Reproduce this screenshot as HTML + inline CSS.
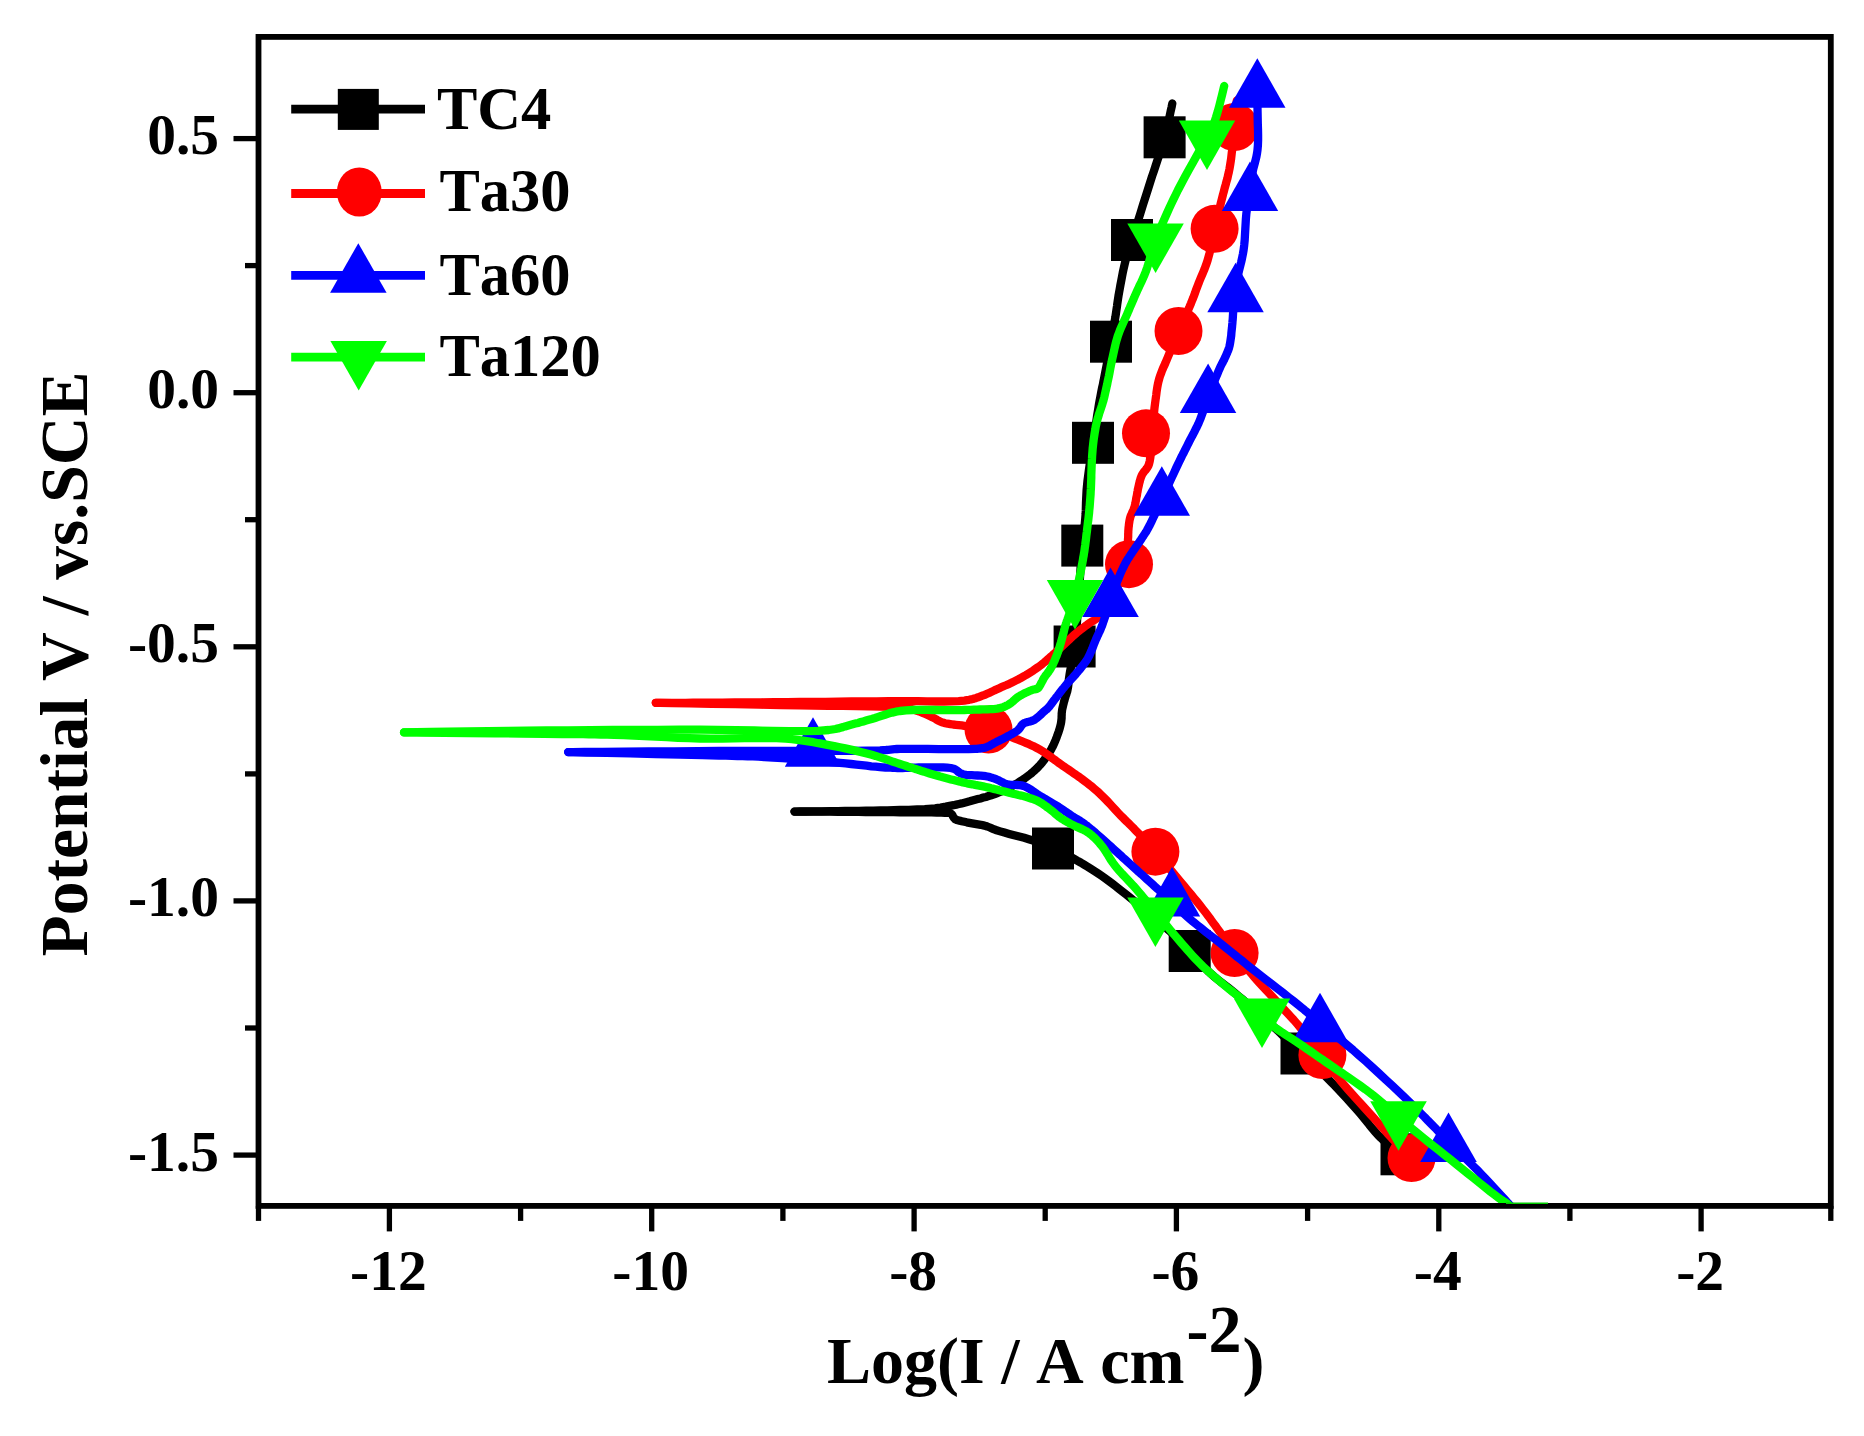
<!DOCTYPE html>
<html lang="en"><head><meta charset="utf-8"><title>Polarization curves</title>
<style>html,body{margin:0;padding:0;background:#fff}svg{display:block;filter:blur(0.7px)}text{font-kerning:none;font-family:"Liberation Serif","Times New Roman",serif;font-weight:bold;fill:#000}</style></head><body>
<svg width="1864" height="1436" viewBox="0 0 1864 1436">
<rect width="1864" height="1436" fill="#fff"/>
<defs><clipPath id="pc"><rect x="258.5" y="36.9" width="1572.3" height="1171.0"/></clipPath></defs>
<g clip-path="url(#pc)" fill="none" stroke-linejoin="round" stroke-linecap="round">
<path d="M1172.3 103.5 L1172.1 104.5 L1171.6 107.1 L1170.7 111.0 L1169.7 115.9 L1168.5 121.3 L1167.2 127.0 L1165.9 132.4 L1164.6 137.3 L1163.1 142.6 L1161.4 148.0 L1159.7 153.6 L1157.8 159.2 L1155.9 164.9 L1154.0 170.7 L1152.0 176.5 L1150.1 182.5 L1147.9 189.6 L1145.5 197.1 L1143.0 204.8 L1140.6 212.6 L1138.2 220.2 L1135.9 227.5 L1133.8 234.1 L1132.0 240.0 L1131.0 243.0 L1130.1 245.8 L1129.3 248.3 L1128.5 250.7 L1127.7 253.0 L1127.0 255.4 L1126.2 257.9 L1125.5 260.7 L1124.6 264.4 L1123.7 268.4 L1122.8 272.5 L1122.0 276.7 L1121.2 281.0 L1120.4 285.1 L1119.7 289.1 L1119.0 292.9 L1118.5 295.8 L1118.1 298.5 L1117.7 301.2 L1117.3 303.8 L1117.0 306.3 L1116.6 308.9 L1116.2 311.6 L1115.8 314.4 L1115.3 317.6 L1114.7 320.9 L1114.1 324.2 L1113.5 327.6 L1112.9 331.0 L1112.3 334.5 L1111.7 338.1 L1111.0 341.7 L1110.2 346.1 L1109.3 350.8 L1108.4 355.6 L1107.5 360.5 L1106.6 365.4 L1105.7 370.1 L1104.8 374.6 L1104.0 378.8 L1103.4 381.7 L1102.9 384.4 L1102.3 386.9 L1101.8 389.4 L1101.3 391.9 L1100.8 394.5 L1100.3 397.2 L1099.7 400.2 L1098.9 404.8 L1098.1 409.8 L1097.2 415.1 L1096.4 420.6 L1095.5 426.2 L1094.6 431.8 L1093.8 437.4 L1093.0 442.8 L1092.2 448.2 L1091.3 453.7 L1090.5 459.2 L1089.7 464.7 L1088.9 470.1 L1088.2 475.5 L1087.5 480.7 L1087.0 485.8 L1086.6 490.1 L1086.4 494.2 L1086.2 498.3 L1086.0 502.3 L1085.9 506.3 L1085.8 510.2 L1085.6 514.1 L1085.3 518.0 L1085.0 521.4 L1084.7 524.6 L1084.3 527.7 L1083.9 530.9 L1083.5 534.1 L1083.1 537.5 L1082.7 541.3 L1082.3 545.6 L1081.5 555.6 L1080.6 567.8 L1079.7 581.5 L1078.8 596.0 L1077.8 610.4 L1076.8 624.2 L1075.7 636.4 L1074.6 646.5 L1074.0 651.0 L1073.3 655.1 L1072.6 658.9 L1071.9 662.4 L1071.2 665.8 L1070.6 668.9 L1070.0 672.0 L1069.5 675.0 L1069.2 677.1 L1068.9 679.2 L1068.7 681.2 L1068.5 683.1 L1068.3 685.0 L1068.1 686.7 L1067.8 688.4 L1067.5 690.0 L1067.3 691.0 L1067.0 692.0 L1066.7 692.8 L1066.5 693.7 L1066.2 694.5 L1065.9 695.4 L1065.6 696.3 L1065.3 697.3 L1064.9 698.7 L1064.5 700.2 L1064.0 701.8 L1063.6 703.4 L1063.2 705.1 L1062.8 706.8 L1062.4 708.5 L1062.1 710.1 L1061.9 711.7 L1061.7 713.4 L1061.7 715.0 L1061.6 716.6 L1061.6 718.3 L1061.4 720.0 L1061.2 721.8 L1060.9 723.6 L1060.3 726.1 L1059.6 728.8 L1058.7 731.6 L1057.7 734.4 L1056.7 737.2 L1055.6 740.0 L1054.5 742.6 L1053.4 745.1 L1052.4 747.1 L1051.4 748.9 L1050.4 750.7 L1049.4 752.5 L1048.3 754.2 L1047.2 755.8 L1046.0 757.5 L1044.8 759.1 L1043.6 760.7 L1042.4 762.2 L1041.1 763.7 L1039.8 765.2 L1038.5 766.6 L1037.1 768.1 L1035.6 769.5 L1034.1 770.9 L1032.3 772.5 L1030.5 774.0 L1028.5 775.5 L1026.5 777.0 L1024.5 778.5 L1022.4 779.9 L1020.2 781.3 L1018.0 782.7 L1015.5 784.2 L1012.9 785.6 L1010.3 787.1 L1007.6 788.5 L1004.9 789.8 L1002.1 791.1 L999.3 792.3 L996.6 793.4 L994.0 794.4 L991.3 795.3 L988.6 796.1 L985.9 796.9 L983.2 797.6 L980.5 798.4 L977.8 799.1 L975.1 799.8 L972.4 800.5 L969.7 801.3 L967.1 802.0 L964.4 802.7 L961.7 803.4 L959.0 804.0 L956.3 804.6 L953.6 805.2 L951.0 805.7 L948.4 806.2 L945.8 806.7 L943.2 807.1 L940.6 807.6 L937.9 807.9 L935.1 808.3 L932.2 808.6 L928.6 808.9 L924.8 809.2 L921.0 809.4 L917.1 809.5 L913.0 809.6 L908.8 809.8 L904.5 809.9 L900.0 810.0 L893.8 810.2 L887.2 810.3 L880.3 810.5 L873.3 810.6 L866.1 810.7 L858.9 810.8 L851.9 810.9 L845.0 811.0 L837.9 811.1 L829.9 811.2 L821.5 811.3 L813.3 811.4 L805.9 811.5 L800.0 811.5 L796.0 811.6 L794.5 811.6" stroke="#000" stroke-width="8.3"/>
<path d="M794.5 811.6 L796.0 811.6 L800.0 811.6 L805.9 811.6 L813.3 811.7 L821.5 811.7 L829.9 811.7 L837.9 811.8 L845.0 811.8 L851.8 811.8 L858.7 811.9 L865.7 812.0 L872.7 812.0 L879.7 812.1 L886.6 812.2 L893.4 812.2 L900.0 812.3 L906.1 812.3 L912.5 812.4 L919.0 812.4 L925.4 812.4 L931.4 812.4 L936.8 812.5 L941.4 812.6 L945.0 812.8 L946.0 812.9 L946.9 812.9 L947.8 812.9 L948.5 812.9 L949.2 813.0 L949.8 813.1 L950.4 813.3 L951.0 813.6 L951.6 814.1 L952.1 814.7 L952.5 815.4 L952.9 816.2 L953.4 817.0 L953.8 817.7 L954.4 818.4 L955.0 819.0 L955.9 819.5 L956.9 820.0 L958.0 820.3 L959.1 820.7 L960.4 820.9 L961.7 821.2 L963.0 821.5 L964.4 821.8 L966.7 822.3 L969.3 822.8 L972.1 823.3 L975.0 823.8 L977.9 824.3 L980.8 824.8 L983.4 825.4 L985.8 826.0 L987.3 826.5 L988.6 827.0 L989.9 827.5 L991.0 828.0 L992.2 828.6 L993.5 829.1 L995.0 829.7 L996.6 830.3 L1000.2 831.4 L1004.4 832.6 L1009.2 833.9 L1014.1 835.2 L1019.2 836.5 L1024.2 837.8 L1028.8 839.2 L1033.0 840.5 L1035.8 841.5 L1038.5 842.4 L1041.0 843.4 L1043.4 844.4 L1045.8 845.4 L1048.1 846.4 L1050.5 847.4 L1053.0 848.5 L1055.6 849.7 L1058.1 850.8 L1060.7 852.0 L1063.2 853.2 L1065.8 854.5 L1068.4 855.8 L1071.1 857.2 L1073.8 858.7 L1077.1 860.6 L1080.6 862.5 L1084.1 864.6 L1087.6 866.7 L1091.2 869.0 L1094.7 871.2 L1098.2 873.5 L1101.7 875.9 L1105.2 878.4 L1108.6 880.9 L1112.0 883.4 L1115.4 886.0 L1118.8 888.7 L1122.3 891.5 L1125.9 894.3 L1129.6 897.3 L1134.5 901.2 L1139.7 905.5 L1145.1 909.9 L1150.6 914.5 L1156.0 919.0 L1161.2 923.5 L1166.0 927.8 L1170.4 931.7 L1173.2 934.3 L1175.8 936.8 L1178.3 939.2 L1180.6 941.5 L1182.9 943.9 L1185.1 946.2 L1187.4 948.6 L1189.7 951.0 L1192.1 953.6 L1194.5 956.2 L1196.8 958.8 L1199.1 961.5 L1201.5 964.2 L1203.9 966.8 L1206.4 969.4 L1209.0 972.0 L1212.0 974.7 L1215.0 977.3 L1218.2 979.9 L1221.5 982.5 L1224.8 985.0 L1228.1 987.6 L1231.5 990.3 L1234.8 993.0 L1238.5 996.1 L1242.4 999.3 L1246.3 1002.6 L1250.2 1005.9 L1254.1 1009.2 L1257.9 1012.4 L1261.5 1015.5 L1264.8 1018.5 L1267.2 1020.7 L1269.4 1022.7 L1271.6 1024.7 L1273.7 1026.7 L1275.7 1028.7 L1277.8 1030.6 L1279.8 1032.6 L1282.0 1034.7 L1284.4 1037.0 L1286.7 1039.2 L1289.1 1041.5 L1291.5 1043.9 L1293.9 1046.2 L1296.4 1048.6 L1298.9 1051.0 L1301.5 1053.5 L1304.5 1056.4 L1307.7 1059.3 L1310.9 1062.3 L1314.1 1065.3 L1317.4 1068.4 L1320.7 1071.5 L1324.0 1074.7 L1327.3 1078.0 L1331.0 1081.8 L1334.8 1085.7 L1338.6 1089.8 L1342.5 1093.9 L1346.3 1098.0 L1350.1 1102.2 L1353.7 1106.2 L1357.3 1110.2 L1360.4 1113.8 L1363.5 1117.5 L1366.4 1121.1 L1369.3 1124.8 L1372.2 1128.3 L1375.1 1131.7 L1378.0 1135.0 L1381.0 1138.0 L1383.6 1140.4 L1386.3 1142.6 L1389.0 1144.7 L1391.7 1146.6 L1394.4 1148.6 L1396.9 1150.5 L1399.3 1152.4 L1401.5 1154.3 L1403.2 1156.0 L1404.9 1157.8 L1406.7 1159.8 L1408.4 1161.7 L1409.8 1163.4 L1411.0 1164.7 L1411.7 1165.7 L1412.0 1166.0" stroke="#000" stroke-width="8.3"/>
<rect x="1143.6" y="116.3" width="42.0" height="42.0" fill="#000"/>
<rect x="1111.0" y="219.0" width="42.0" height="42.0" fill="#000"/>
<rect x="1090.0" y="320.7" width="42.0" height="42.0" fill="#000"/>
<rect x="1072.0" y="421.8" width="42.0" height="42.0" fill="#000"/>
<rect x="1061.3" y="524.6" width="42.0" height="42.0" fill="#000"/>
<rect x="1053.6" y="625.5" width="42.0" height="42.0" fill="#000"/>
<rect x="1032.0" y="827.5" width="42.0" height="42.0" fill="#000"/>
<rect x="1168.7" y="930.0" width="42.0" height="42.0" fill="#000"/>
<rect x="1280.5" y="1032.5" width="42.0" height="42.0" fill="#000"/>
<rect x="1380.5" y="1133.3" width="42.0" height="42.0" fill="#000"/>
<path d="M1236.8 100.5 L1236.7 101.2 L1236.6 103.3 L1236.3 106.3 L1236.0 110.1 L1235.7 114.3 L1235.3 118.7 L1234.9 123.0 L1234.5 127.0 L1234.0 131.8 L1233.5 137.0 L1233.0 142.4 L1232.4 148.0 L1231.7 153.5 L1231.1 158.9 L1230.3 164.0 L1229.5 168.8 L1228.8 172.3 L1228.0 175.6 L1227.3 178.8 L1226.4 181.8 L1225.6 184.9 L1224.7 188.0 L1223.9 191.2 L1223.0 194.5 L1222.0 198.6 L1220.9 202.8 L1219.9 207.0 L1218.8 211.4 L1217.7 215.8 L1216.6 220.2 L1215.6 224.5 L1214.6 228.8 L1213.7 232.9 L1212.8 237.0 L1212.0 241.1 L1211.2 245.2 L1210.4 249.3 L1209.5 253.2 L1208.5 257.0 L1207.5 260.7 L1206.5 263.6 L1205.5 266.4 L1204.5 269.1 L1203.4 271.8 L1202.3 274.4 L1201.2 276.9 L1200.1 279.5 L1199.0 282.2 L1198.0 284.9 L1197.0 287.5 L1196.0 290.1 L1195.1 292.8 L1194.1 295.4 L1193.1 298.1 L1192.0 300.8 L1190.9 303.6 L1189.5 306.9 L1188.0 310.2 L1186.4 313.7 L1184.8 317.1 L1183.2 320.6 L1181.6 324.1 L1180.0 327.6 L1178.5 331.0 L1177.1 334.3 L1175.7 337.7 L1174.3 341.0 L1173.0 344.3 L1171.7 347.6 L1170.4 350.9 L1169.1 354.1 L1167.8 357.3 L1166.6 360.1 L1165.5 362.8 L1164.3 365.5 L1163.1 368.1 L1162.0 370.8 L1161.0 373.4 L1160.0 376.1 L1159.2 378.8 L1158.5 381.4 L1157.9 384.0 L1157.4 386.6 L1157.0 389.2 L1156.6 391.8 L1156.3 394.5 L1155.9 397.3 L1155.5 400.2 L1155.0 404.0 L1154.5 407.9 L1154.1 412.0 L1153.7 416.2 L1153.2 420.4 L1152.8 424.7 L1152.4 428.9 L1152.0 433.0 L1151.7 437.1 L1151.4 441.3 L1151.2 445.6 L1151.0 449.9 L1150.8 454.0 L1150.3 457.8 L1149.7 461.3 L1148.9 464.4 L1148.2 466.1 L1147.3 467.6 L1146.4 468.9 L1145.4 470.2 L1144.4 471.3 L1143.5 472.5 L1142.6 473.8 L1141.9 475.1 L1141.3 476.4 L1140.8 477.7 L1140.4 479.1 L1140.0 480.4 L1139.7 481.7 L1139.3 483.1 L1139.0 484.4 L1138.7 485.8 L1138.4 487.1 L1138.1 488.5 L1137.8 489.8 L1137.6 491.2 L1137.3 492.5 L1137.1 493.9 L1136.9 495.3 L1136.6 496.6 L1136.3 497.9 L1136.1 499.3 L1135.9 500.6 L1135.6 502.0 L1135.4 503.3 L1135.1 504.6 L1134.8 506.0 L1134.4 507.3 L1133.9 508.6 L1133.4 510.0 L1132.8 511.3 L1132.2 512.6 L1131.6 514.0 L1131.0 515.3 L1130.5 516.6 L1130.1 518.0 L1129.8 519.3 L1129.5 520.7 L1129.3 522.0 L1129.1 523.4 L1128.9 524.7 L1128.8 526.1 L1128.6 527.4 L1128.5 528.8 L1128.4 530.1 L1128.3 531.4 L1128.3 532.7 L1128.2 533.9 L1128.2 535.2 L1128.2 536.6 L1128.1 538.0 L1128.0 539.5 L1127.9 541.7 L1127.7 544.1 L1127.6 546.6 L1127.4 549.2 L1127.2 551.9 L1126.9 554.6 L1126.5 557.3 L1126.0 560.0 L1125.3 563.1 L1124.5 566.2 L1123.6 569.4 L1122.6 572.6 L1121.5 575.8 L1120.4 579.0 L1119.2 582.1 L1118.0 585.0 L1116.9 587.6 L1115.7 590.1 L1114.5 592.5 L1113.3 594.9 L1112.0 597.3 L1110.7 599.6 L1109.4 601.8 L1108.0 604.0 L1106.7 606.0 L1105.3 608.0 L1103.8 610.0 L1102.4 611.9 L1100.9 613.7 L1099.4 615.4 L1098.0 616.9 L1096.6 618.3 L1095.7 619.1 L1094.8 619.8 L1093.9 620.4 L1093.1 620.9 L1092.2 621.4 L1091.3 621.9 L1090.4 622.5 L1089.4 623.2 L1088.0 624.2 L1086.4 625.3 L1084.8 626.5 L1083.2 627.7 L1081.5 629.0 L1079.8 630.3 L1078.2 631.6 L1076.6 632.9 L1075.0 634.3 L1073.3 635.7 L1071.7 637.2 L1070.1 638.7 L1068.5 640.3 L1066.9 641.8 L1065.3 643.3 L1063.7 644.8 L1062.1 646.3 L1060.5 647.8 L1058.9 649.3 L1057.3 650.8 L1055.7 652.3 L1054.0 653.8 L1052.4 655.3 L1050.8 656.7 L1049.2 658.1 L1047.7 659.4 L1046.1 660.8 L1044.6 662.1 L1043.0 663.4 L1041.4 664.7 L1039.7 666.0 L1037.9 667.3 L1035.7 668.8 L1033.4 670.4 L1031.0 671.9 L1028.6 673.4 L1026.1 675.0 L1023.6 676.4 L1021.1 677.8 L1018.6 679.2 L1016.2 680.4 L1013.8 681.6 L1011.4 682.8 L1009.0 683.9 L1006.6 685.0 L1004.1 686.0 L1001.7 687.1 L999.3 688.2 L996.9 689.3 L994.4 690.4 L992.0 691.6 L989.6 692.7 L987.1 693.8 L984.7 694.8 L982.3 695.7 L980.0 696.6 L978.1 697.3 L976.3 697.9 L974.5 698.4 L972.8 699.0 L971.0 699.4 L969.1 699.8 L966.9 700.2 L964.4 700.6 L958.6 701.1 L951.7 701.4 L944.1 701.5 L935.8 701.5 L927.1 701.3 L918.1 701.2 L909.0 701.1 L900.0 701.1 L888.5 701.2 L876.5 701.3 L864.1 701.4 L851.4 701.5 L838.5 701.7 L825.5 701.8 L812.6 701.9 L800.0 702.0 L787.2 702.1 L774.1 702.2 L760.7 702.3 L747.5 702.4 L734.6 702.5 L722.2 702.6 L710.6 702.6 L700.0 702.7 L693.0 702.7 L685.6 702.8 L678.2 702.8 L671.3 702.8 L665.1 702.8 L660.2 702.8 L657.0 702.8 L655.8 702.8" stroke="#f00" stroke-width="8.3"/>
<path d="M655.8 702.8 L660.2 702.9 L672.2 703.1 L689.9 703.4 L711.5 703.8 L735.2 704.2 L759.0 704.6 L781.3 705.0 L800.0 705.4 L814.0 705.6 L828.4 705.8 L842.7 705.9 L856.7 706.1 L869.8 706.3 L881.7 706.5 L891.9 706.9 L900.0 707.5 L902.5 707.7 L904.7 708.0 L906.6 708.2 L908.3 708.5 L909.9 708.7 L911.5 709.1 L913.2 709.5 L915.0 710.0 L917.1 710.7 L919.4 711.5 L921.6 712.4 L923.8 713.3 L926.0 714.3 L928.2 715.3 L930.3 716.3 L932.2 717.2 L933.6 717.9 L935.0 718.6 L936.2 719.4 L937.4 720.1 L938.7 720.8 L940.0 721.4 L941.4 722.1 L942.9 722.6 L945.2 723.2 L947.7 723.7 L950.3 724.1 L953.1 724.5 L955.9 724.8 L958.7 725.1 L961.6 725.4 L964.4 725.8 L967.3 726.2 L970.3 726.6 L973.3 726.9 L976.2 727.3 L979.3 727.7 L982.3 728.2 L985.4 728.8 L988.5 729.5 L992.1 730.5 L995.8 731.6 L999.6 732.8 L1003.4 734.1 L1007.2 735.5 L1010.9 736.9 L1014.5 738.3 L1018.0 739.7 L1020.9 740.8 L1023.7 742.0 L1026.4 743.1 L1029.1 744.2 L1031.7 745.4 L1034.3 746.6 L1036.9 748.0 L1039.5 749.4 L1042.2 751.0 L1044.9 752.8 L1047.6 754.7 L1050.3 756.6 L1052.9 758.6 L1055.6 760.5 L1058.2 762.5 L1060.9 764.4 L1063.6 766.3 L1066.3 768.1 L1069.1 770.0 L1071.8 771.9 L1074.5 773.8 L1077.2 775.6 L1079.9 777.5 L1082.4 779.4 L1084.7 781.1 L1086.9 782.8 L1089.0 784.4 L1091.1 786.1 L1093.2 787.8 L1095.3 789.6 L1097.4 791.4 L1099.6 793.4 L1102.2 795.9 L1105.0 798.7 L1107.7 801.5 L1110.5 804.5 L1113.2 807.5 L1115.9 810.4 L1118.5 813.2 L1121.0 815.8 L1123.0 817.8 L1124.9 819.7 L1126.7 821.5 L1128.6 823.3 L1130.4 825.1 L1132.2 826.9 L1134.1 828.8 L1136.0 830.8 L1138.3 833.2 L1140.7 835.7 L1143.2 838.3 L1145.6 840.9 L1148.1 843.6 L1150.6 846.3 L1153.0 849.0 L1155.4 851.7 L1157.8 854.4 L1160.0 857.1 L1162.3 859.8 L1164.6 862.5 L1166.8 865.3 L1169.1 868.1 L1171.5 871.0 L1174.0 874.0 L1177.1 877.7 L1180.4 881.6 L1183.8 885.7 L1187.2 889.8 L1190.7 893.9 L1194.0 898.0 L1197.3 902.0 L1200.4 905.9 L1203.0 909.2 L1205.6 912.6 L1208.0 915.8 L1210.5 919.1 L1212.8 922.3 L1215.2 925.5 L1217.4 928.6 L1219.7 931.7 L1221.7 934.4 L1223.5 937.1 L1225.3 939.8 L1227.1 942.4 L1228.9 945.1 L1230.7 947.7 L1232.6 950.3 L1234.6 953.0 L1236.8 955.9 L1239.2 958.9 L1241.5 961.8 L1243.9 964.8 L1246.4 967.8 L1248.9 970.7 L1251.4 973.7 L1254.0 976.7 L1256.8 979.9 L1259.7 983.1 L1262.7 986.4 L1265.7 989.6 L1268.8 992.9 L1271.8 996.1 L1274.8 999.3 L1277.7 1002.5 L1280.4 1005.5 L1283.1 1008.4 L1285.8 1011.3 L1288.4 1014.1 L1291.0 1017.0 L1293.7 1019.9 L1296.3 1022.9 L1299.0 1026.0 L1301.9 1029.5 L1304.9 1033.0 L1307.9 1036.7 L1310.9 1040.4 L1313.9 1044.1 L1316.8 1047.8 L1319.7 1051.4 L1322.4 1055.0 L1324.7 1058.2 L1326.9 1061.2 L1328.9 1064.3 L1330.9 1067.3 L1333.0 1070.4 L1335.1 1073.5 L1337.5 1076.7 L1340.0 1080.0 L1343.8 1084.6 L1348.0 1089.5 L1352.5 1094.6 L1357.2 1099.8 L1361.9 1104.9 L1366.4 1109.9 L1370.7 1114.6 L1374.5 1118.8 L1376.9 1121.5 L1379.2 1124.1 L1381.3 1126.5 L1383.4 1128.8 L1385.4 1131.1 L1387.4 1133.4 L1389.5 1135.6 L1391.7 1138.0 L1394.4 1140.8 L1397.4 1143.9 L1400.7 1147.3 L1404.0 1150.5 L1406.9 1153.4 L1409.3 1155.8 L1410.9 1157.4 L1411.5 1158.0" stroke="#f00" stroke-width="8.3"/>
<circle cx="1234.5" cy="127.0" r="24.0" fill="#f00"/>
<circle cx="1214.6" cy="228.8" r="24.0" fill="#f00"/>
<circle cx="1178.5" cy="331.0" r="24.0" fill="#f00"/>
<circle cx="1146.0" cy="433.3" r="24.0" fill="#f00"/>
<circle cx="1129.0" cy="564.2" r="24.0" fill="#f00"/>
<circle cx="988.5" cy="729.5" r="24.0" fill="#f00"/>
<circle cx="1155.4" cy="851.7" r="24.0" fill="#f00"/>
<circle cx="1234.6" cy="953.0" r="24.0" fill="#f00"/>
<circle cx="1322.4" cy="1055.0" r="24.0" fill="#f00"/>
<circle cx="1411.5" cy="1158.0" r="24.0" fill="#f00"/>
<path d="M1257.5 75.0 L1257.5 75.9 L1257.5 78.5 L1257.5 82.4 L1257.5 87.1 L1257.5 92.4 L1257.5 97.9 L1257.5 103.2 L1257.5 108.0 L1257.6 113.1 L1257.7 118.4 L1257.8 123.9 L1258.0 129.4 L1258.1 134.8 L1258.1 140.2 L1257.9 145.3 L1257.5 150.0 L1257.0 153.5 L1256.4 156.8 L1255.6 160.0 L1254.8 163.1 L1254.0 166.1 L1253.2 169.1 L1252.6 172.1 L1252.0 175.0 L1251.6 177.5 L1251.4 180.1 L1251.1 182.5 L1250.9 185.0 L1250.8 187.4 L1250.6 189.8 L1250.3 192.1 L1250.0 194.4 L1249.7 196.4 L1249.3 198.3 L1248.9 200.1 L1248.4 201.9 L1248.0 203.7 L1247.6 205.6 L1247.2 207.7 L1246.8 210.0 L1246.3 214.1 L1245.9 218.8 L1245.6 223.9 L1245.3 229.2 L1245.0 234.6 L1244.7 240.0 L1244.2 245.2 L1243.6 250.0 L1242.9 254.0 L1242.1 258.0 L1241.2 262.0 L1240.2 265.9 L1239.3 269.6 L1238.4 273.3 L1237.6 276.7 L1237.0 280.0 L1236.6 282.2 L1236.3 284.3 L1236.1 286.3 L1235.8 288.2 L1235.6 290.0 L1235.4 291.9 L1235.2 293.8 L1235.0 295.7 L1234.8 297.6 L1234.5 299.6 L1234.3 301.5 L1234.1 303.4 L1233.9 305.3 L1233.7 307.2 L1233.5 309.1 L1233.3 311.0 L1233.1 312.8 L1233.0 314.5 L1232.9 316.2 L1232.8 317.9 L1232.7 319.6 L1232.5 321.3 L1232.4 323.1 L1232.2 325.0 L1232.0 327.5 L1231.7 330.1 L1231.4 332.9 L1231.2 335.7 L1230.8 338.4 L1230.4 341.1 L1230.0 343.7 L1229.5 346.0 L1229.1 347.6 L1228.6 349.1 L1228.1 350.5 L1227.5 351.9 L1227.0 353.3 L1226.4 354.6 L1225.8 355.9 L1225.2 357.3 L1224.6 358.6 L1224.0 359.9 L1223.3 361.1 L1222.7 362.4 L1222.0 363.6 L1221.3 365.0 L1220.6 366.4 L1219.9 368.0 L1218.6 370.9 L1217.3 374.1 L1215.9 377.5 L1214.4 381.2 L1212.9 384.9 L1211.4 388.7 L1210.0 392.4 L1208.6 395.9 L1207.4 399.2 L1206.2 402.4 L1205.1 405.7 L1204.0 408.9 L1202.9 412.1 L1201.7 415.3 L1200.6 418.4 L1199.3 421.5 L1198.1 424.3 L1196.8 427.0 L1195.4 429.7 L1194.1 432.4 L1192.7 435.0 L1191.3 437.6 L1189.9 440.2 L1188.6 442.9 L1187.3 445.5 L1186.0 448.1 L1184.7 450.7 L1183.4 453.3 L1182.0 455.9 L1180.7 458.6 L1179.3 461.5 L1177.9 464.4 L1176.0 468.4 L1174.1 472.6 L1172.0 477.0 L1170.0 481.4 L1167.9 486.0 L1165.8 490.5 L1163.8 494.9 L1161.8 499.2 L1160.0 503.1 L1158.2 507.1 L1156.4 511.1 L1154.6 515.0 L1152.8 518.8 L1151.1 522.4 L1149.4 525.8 L1147.8 528.8 L1146.8 530.6 L1145.8 532.3 L1144.8 533.8 L1143.8 535.3 L1142.9 536.7 L1141.9 538.1 L1141.0 539.6 L1140.0 541.0 L1139.1 542.4 L1138.1 543.8 L1137.2 545.2 L1136.2 546.5 L1135.3 547.9 L1134.3 549.3 L1133.4 550.6 L1132.5 552.0 L1131.6 553.3 L1130.7 554.7 L1129.8 556.0 L1129.0 557.3 L1128.1 558.6 L1127.2 560.0 L1126.4 561.5 L1125.5 563.0 L1124.4 565.1 L1123.3 567.4 L1122.2 569.7 L1121.1 572.2 L1120.0 574.6 L1119.0 577.1 L1118.0 579.6 L1117.0 582.0 L1116.1 584.2 L1115.3 586.4 L1114.5 588.6 L1113.7 590.8 L1112.9 593.0 L1112.1 595.3 L1111.3 597.6 L1110.5 600.0 L1109.5 603.1 L1108.4 606.3 L1107.4 609.7 L1106.3 613.1 L1105.2 616.5 L1104.1 619.8 L1103.0 623.0 L1102.0 625.8 L1101.2 627.7 L1100.5 629.5 L1099.8 631.1 L1099.0 632.7 L1098.3 634.3 L1097.5 635.9 L1096.8 637.5 L1096.0 639.3 L1095.1 641.5 L1094.1 643.9 L1093.2 646.3 L1092.3 648.7 L1091.3 651.1 L1090.2 653.5 L1089.2 655.8 L1088.0 658.0 L1086.9 659.9 L1085.7 661.6 L1084.5 663.3 L1083.2 665.0 L1082.0 666.6 L1080.7 668.3 L1079.3 669.9 L1078.0 671.5 L1076.6 673.1 L1075.2 674.8 L1073.7 676.4 L1072.3 678.0 L1070.8 679.6 L1069.3 681.2 L1067.9 682.8 L1066.5 684.4 L1065.2 686.0 L1063.9 687.6 L1062.6 689.1 L1061.4 690.7 L1060.1 692.3 L1058.9 693.9 L1057.7 695.5 L1056.5 697.0 L1055.4 698.5 L1054.2 700.0 L1053.1 701.5 L1052.0 703.0 L1050.9 704.5 L1049.9 705.8 L1048.9 707.0 L1048.0 708.0 L1047.6 708.5 L1047.2 708.8 L1046.8 709.2 L1046.5 709.4 L1046.1 709.7 L1045.7 710.0 L1045.3 710.4 L1044.8 710.8 L1043.8 711.7 L1042.6 712.8 L1041.3 714.1 L1039.9 715.4 L1038.5 716.6 L1037.0 717.9 L1035.5 719.0 L1034.1 719.9 L1032.8 720.5 L1031.4 721.0 L1030.0 721.4 L1028.5 721.8 L1027.1 722.1 L1025.8 722.5 L1024.5 723.0 L1023.4 723.6 L1022.6 724.3 L1021.9 725.0 L1021.2 725.9 L1020.7 726.7 L1020.1 727.6 L1019.5 728.5 L1018.8 729.3 L1018.0 730.1 L1016.9 731.0 L1015.6 731.8 L1014.3 732.7 L1012.9 733.5 L1011.5 734.2 L1010.1 735.0 L1008.7 735.8 L1007.3 736.5 L1006.0 737.2 L1004.6 737.9 L1003.3 738.6 L1002.0 739.3 L1000.6 739.9 L999.3 740.6 L997.9 741.2 L996.6 741.9 L995.3 742.6 L993.9 743.3 L992.6 744.1 L991.2 744.8 L989.9 745.6 L988.5 746.2 L987.2 746.8 L985.8 747.3 L984.6 747.7 L983.4 748.0 L982.3 748.2 L981.1 748.4 L979.9 748.5 L978.5 748.6 L976.9 748.8 L975.1 748.9 L968.6 749.2 L960.0 749.2 L949.8 749.2 L938.8 749.1 L927.6 748.9 L917.0 748.8 L907.6 748.8 L900.0 748.9 L897.0 749.0 L894.5 749.2 L892.4 749.4 L890.4 749.6 L888.3 749.8 L886.1 750.0 L883.3 750.1 L880.0 750.3 L867.2 750.6 L850.5 750.8 L830.7 750.9 L808.8 750.9 L785.8 750.9 L762.5 750.9 L739.9 750.9 L719.0 751.0 L697.9 751.1 L673.9 751.3 L648.8 751.5 L624.4 751.7 L602.4 751.8 L584.6 752.0 L572.6 752.1 L568.2 752.1" stroke="#00f" stroke-width="8.3"/>
<path d="M568.2 752.1 L573.2 752.2 L586.8 752.5 L606.5 752.9 L630.2 753.4 L655.6 754.0 L680.4 754.6 L702.3 755.1 L719.0 755.5 L725.9 755.7 L731.9 755.8 L737.5 756.0 L742.6 756.1 L747.7 756.3 L752.9 756.4 L758.4 756.7 L764.4 757.0 L773.1 757.5 L782.5 758.1 L792.4 758.9 L802.5 759.6 L812.6 760.4 L822.3 761.2 L831.6 762.0 L840.0 762.8 L845.7 763.4 L851.2 764.0 L856.5 764.6 L861.6 765.2 L866.6 765.7 L871.3 766.3 L875.7 766.7 L880.0 767.1 L882.8 767.3 L885.5 767.5 L888.0 767.6 L890.4 767.7 L892.7 767.8 L895.1 767.9 L897.5 768.0 L900.0 768.0 L902.6 768.0 L905.2 767.9 L907.8 767.9 L910.4 767.8 L913.1 767.7 L915.8 767.6 L918.6 767.5 L921.5 767.5 L925.4 767.5 L929.7 767.4 L934.2 767.4 L938.7 767.3 L943.2 767.4 L947.2 767.6 L950.8 768.0 L953.6 768.7 L954.7 769.1 L955.7 769.7 L956.5 770.2 L957.2 770.9 L957.9 771.5 L958.6 772.0 L959.3 772.6 L960.0 773.0 L960.6 773.3 L961.1 773.5 L961.5 773.7 L962.0 773.9 L962.5 774.1 L963.1 774.3 L963.7 774.4 L964.4 774.6 L966.3 774.9 L968.8 775.1 L971.6 775.2 L974.5 775.4 L977.6 775.5 L980.6 775.6 L983.4 775.9 L985.8 776.2 L987.3 776.5 L988.8 776.8 L990.2 777.2 L991.5 777.6 L992.7 778.0 L994.0 778.4 L995.3 778.9 L996.6 779.4 L997.9 780.0 L999.2 780.6 L1000.5 781.3 L1001.8 782.0 L1003.1 782.6 L1004.4 783.3 L1005.8 783.8 L1007.3 784.3 L1009.1 784.7 L1011.1 784.8 L1013.1 784.9 L1015.2 784.9 L1017.3 785.0 L1019.4 785.1 L1021.4 785.4 L1023.4 785.9 L1025.5 786.7 L1027.5 787.7 L1029.4 788.8 L1031.4 790.1 L1033.4 791.4 L1035.3 792.8 L1037.4 794.2 L1039.5 795.5 L1042.1 797.0 L1044.8 798.7 L1047.6 800.3 L1050.5 802.0 L1053.3 803.7 L1056.0 805.3 L1058.6 806.9 L1060.9 808.4 L1062.4 809.4 L1063.9 810.4 L1065.2 811.3 L1066.5 812.2 L1067.8 813.1 L1069.1 814.0 L1070.4 814.9 L1071.7 815.8 L1073.0 816.7 L1074.4 817.5 L1075.7 818.3 L1077.1 819.1 L1078.4 819.9 L1079.8 820.7 L1081.1 821.6 L1082.4 822.5 L1083.7 823.4 L1085.0 824.4 L1086.3 825.3 L1087.5 826.3 L1088.8 827.3 L1090.1 828.4 L1091.5 829.6 L1093.0 830.8 L1095.4 832.8 L1097.9 835.0 L1100.6 837.4 L1103.4 839.9 L1106.2 842.4 L1109.0 845.0 L1111.9 847.5 L1114.6 850.0 L1117.3 852.4 L1120.0 854.8 L1122.6 857.3 L1125.3 859.7 L1128.0 862.1 L1130.6 864.5 L1133.3 867.0 L1136.0 869.4 L1138.7 871.9 L1141.5 874.3 L1144.2 876.8 L1147.0 879.3 L1149.7 881.8 L1152.4 884.2 L1155.0 886.6 L1157.5 888.8 L1159.4 890.6 L1161.3 892.2 L1163.1 893.9 L1164.8 895.4 L1166.6 897.0 L1168.4 898.6 L1170.1 900.3 L1172.0 902.0 L1174.1 904.0 L1176.2 906.0 L1178.2 908.0 L1180.4 910.1 L1182.5 912.2 L1184.8 914.4 L1187.2 916.6 L1189.7 918.8 L1193.2 921.8 L1197.0 924.9 L1201.0 928.1 L1205.2 931.4 L1209.4 934.7 L1213.6 938.0 L1217.8 941.3 L1221.9 944.5 L1225.9 947.7 L1229.8 950.9 L1233.7 954.0 L1237.6 957.2 L1241.6 960.3 L1245.6 963.6 L1249.7 966.9 L1254.0 970.3 L1259.4 974.5 L1265.1 979.0 L1271.1 983.6 L1277.1 988.3 L1283.1 992.9 L1288.8 997.4 L1294.2 1001.6 L1299.0 1005.5 L1302.0 1007.9 L1304.7 1010.2 L1307.3 1012.3 L1309.7 1014.4 L1312.1 1016.4 L1314.6 1018.5 L1317.2 1020.7 L1320.0 1023.0 L1323.7 1026.0 L1327.6 1029.1 L1331.5 1032.3 L1335.6 1035.6 L1339.8 1039.0 L1344.1 1042.5 L1348.5 1046.2 L1353.0 1050.0 L1359.0 1055.3 L1365.5 1061.0 L1372.2 1067.1 L1379.0 1073.4 L1385.8 1079.7 L1392.4 1085.8 L1398.7 1091.8 L1404.5 1097.3 L1408.8 1101.4 L1412.9 1105.5 L1417.0 1109.5 L1420.8 1113.4 L1424.6 1117.1 L1428.1 1120.8 L1431.5 1124.2 L1434.6 1127.4 L1436.6 1129.4 L1438.3 1131.3 L1440.0 1133.0 L1441.6 1134.7 L1443.1 1136.4 L1444.8 1138.2 L1446.5 1140.0 L1448.5 1142.0 L1451.6 1145.1 L1455.0 1148.4 L1458.6 1151.8 L1462.3 1155.4 L1466.2 1159.1 L1470.0 1162.8 L1473.8 1166.6 L1477.5 1170.3 L1481.4 1174.3 L1485.5 1178.6 L1489.7 1183.1 L1493.8 1187.5 L1497.7 1191.8 L1501.4 1195.8 L1504.7 1199.4 L1507.5 1202.5 L1508.8 1203.9 L1510.1 1205.4 L1511.4 1206.8 L1512.5 1208.1 L1513.5 1209.3 L1514.3 1210.2 L1514.8 1210.8 L1515.0 1211.0" stroke="#00f" stroke-width="8.3"/>
<polygon points="1257.3,58.3 1229.0,107.8 1285.5,107.8" fill="#00f"/>
<polygon points="1250.0,161.4 1221.8,210.9 1278.2,210.9" fill="#00f"/>
<polygon points="1235.6,262.7 1207.3,312.2 1263.8,312.2" fill="#00f"/>
<polygon points="1208.1,363.4 1179.8,412.9 1236.3,412.9" fill="#00f"/>
<polygon points="1161.8,466.2 1133.5,515.7 1190.0,515.7" fill="#00f"/>
<polygon points="1110.5,567.5 1082.2,617.0 1138.8,617.0" fill="#00f"/>
<polygon points="813.0,717.3 784.8,766.8 841.2,766.8" fill="#00f"/>
<polygon points="1172.0,867.0 1143.8,916.5 1200.2,916.5" fill="#00f"/>
<polygon points="1320.0,992.7 1291.8,1042.2 1348.2,1042.2" fill="#00f"/>
<polygon points="1448.5,1112.5 1420.2,1162.0 1476.8,1162.0" fill="#00f"/>
<path d="M1224.2 86.0 L1223.9 87.1 L1223.2 90.2 L1222.1 94.8 L1220.7 100.3 L1219.2 106.2 L1217.6 112.0 L1216.0 117.3 L1214.6 121.5 L1213.7 123.7 L1212.9 125.7 L1212.1 127.4 L1211.2 129.1 L1210.3 130.8 L1209.3 132.7 L1208.2 134.7 L1207.0 137.0 L1204.2 142.2 L1200.9 148.3 L1197.1 155.1 L1193.1 162.2 L1189.0 169.5 L1185.0 176.8 L1181.3 183.7 L1178.0 190.0 L1175.7 194.7 L1173.4 199.4 L1171.2 204.0 L1169.1 208.5 L1167.2 212.8 L1165.3 217.0 L1163.6 220.9 L1162.0 224.5 L1161.0 226.7 L1160.2 228.7 L1159.4 230.5 L1158.6 232.3 L1157.9 234.0 L1157.2 235.9 L1156.4 237.8 L1155.6 240.0 L1154.4 243.4 L1153.3 247.2 L1152.1 251.3 L1150.9 255.5 L1149.6 259.7 L1148.4 263.8 L1147.1 267.8 L1145.8 271.5 L1144.7 274.4 L1143.5 277.2 L1142.3 279.9 L1141.1 282.5 L1139.8 285.1 L1138.6 287.7 L1137.4 290.3 L1136.2 292.9 L1135.0 295.6 L1133.9 298.3 L1132.7 301.0 L1131.6 303.6 L1130.4 306.3 L1129.3 309.0 L1128.1 311.7 L1127.0 314.4 L1125.8 317.1 L1124.6 319.7 L1123.4 322.4 L1122.2 325.1 L1121.0 327.7 L1119.9 330.4 L1118.9 333.1 L1117.9 335.8 L1117.1 338.5 L1116.3 341.1 L1115.6 343.8 L1115.0 346.5 L1114.4 349.2 L1113.8 351.9 L1113.2 354.6 L1112.6 357.3 L1112.0 360.0 L1111.5 362.7 L1110.9 365.4 L1110.4 368.0 L1109.9 370.7 L1109.4 373.4 L1108.9 376.1 L1108.3 378.8 L1107.7 381.5 L1107.2 384.2 L1106.6 386.8 L1106.0 389.5 L1105.4 392.2 L1104.8 394.9 L1104.2 397.5 L1103.5 400.2 L1102.7 402.9 L1101.9 405.5 L1101.0 408.2 L1100.1 410.8 L1099.2 413.5 L1098.4 416.2 L1097.6 418.8 L1096.9 421.5 L1096.3 424.2 L1095.7 426.8 L1095.3 429.5 L1094.8 432.2 L1094.4 434.8 L1094.0 437.5 L1093.6 440.2 L1093.3 442.9 L1093.0 445.6 L1092.7 448.3 L1092.5 451.0 L1092.3 453.6 L1092.1 456.3 L1092.0 459.0 L1091.8 461.7 L1091.7 464.4 L1091.6 467.1 L1091.5 469.8 L1091.4 472.4 L1091.3 475.1 L1091.3 477.8 L1091.2 480.4 L1091.1 483.1 L1091.0 485.8 L1090.9 488.5 L1090.7 491.2 L1090.6 493.9 L1090.4 496.6 L1090.2 499.2 L1090.0 501.9 L1089.8 504.6 L1089.6 507.3 L1089.3 510.0 L1089.1 512.7 L1088.8 515.4 L1088.5 518.1 L1088.2 520.7 L1087.8 523.4 L1087.5 526.1 L1087.2 528.8 L1086.9 531.5 L1086.5 534.3 L1086.2 537.1 L1085.9 539.9 L1085.5 542.7 L1085.2 545.3 L1084.8 547.9 L1084.5 550.2 L1084.3 551.8 L1084.0 553.3 L1083.8 554.7 L1083.6 556.0 L1083.3 557.3 L1083.1 558.7 L1082.9 560.1 L1082.6 561.5 L1082.3 563.2 L1082.0 564.8 L1081.7 566.5 L1081.4 568.2 L1081.0 569.9 L1080.7 571.7 L1080.3 573.5 L1079.9 575.4 L1079.4 577.8 L1078.8 580.4 L1078.3 583.0 L1077.7 585.7 L1077.1 588.4 L1076.4 591.1 L1075.7 593.8 L1075.0 596.5 L1074.2 599.3 L1073.3 602.2 L1072.4 605.1 L1071.4 608.0 L1070.5 610.8 L1069.6 613.5 L1068.7 615.9 L1068.0 618.0 L1067.6 619.0 L1067.3 619.9 L1067.0 620.7 L1066.7 621.5 L1066.5 622.2 L1066.2 623.0 L1065.9 623.8 L1065.6 624.8 L1065.1 626.3 L1064.7 628.0 L1064.2 629.8 L1063.8 631.7 L1063.3 633.6 L1062.8 635.6 L1062.3 637.5 L1061.8 639.3 L1061.3 641.1 L1060.8 642.9 L1060.2 644.8 L1059.7 646.6 L1059.2 648.4 L1058.6 650.2 L1058.0 652.0 L1057.3 653.8 L1056.6 655.7 L1055.8 657.5 L1055.1 659.4 L1054.3 661.3 L1053.4 663.2 L1052.6 665.0 L1051.7 666.7 L1050.8 668.3 L1050.0 669.6 L1049.2 670.8 L1048.4 672.0 L1047.5 673.1 L1046.7 674.2 L1045.8 675.2 L1045.1 676.3 L1044.4 677.3 L1043.9 678.1 L1043.5 678.8 L1043.1 679.6 L1042.7 680.3 L1042.4 681.0 L1042.0 681.7 L1041.6 682.4 L1041.2 683.1 L1040.8 683.8 L1040.5 684.5 L1040.1 685.2 L1039.7 685.9 L1039.3 686.5 L1038.9 687.2 L1038.4 687.7 L1037.9 688.2 L1037.3 688.6 L1036.6 688.9 L1035.8 689.1 L1035.0 689.3 L1034.2 689.5 L1033.3 689.6 L1032.4 689.9 L1031.5 690.2 L1030.1 690.8 L1028.5 691.5 L1026.9 692.2 L1025.1 693.0 L1023.4 693.9 L1021.7 694.8 L1020.1 695.7 L1018.6 696.6 L1017.3 697.5 L1016.1 698.5 L1014.9 699.5 L1013.7 700.6 L1012.6 701.6 L1011.4 702.6 L1010.2 703.5 L1009.0 704.3 L1007.9 705.0 L1006.7 705.5 L1005.6 706.1 L1004.4 706.6 L1003.3 707.1 L1002.0 707.5 L1000.7 707.9 L999.3 708.2 L997.2 708.6 L995.0 708.9 L992.7 709.1 L990.3 709.2 L987.8 709.3 L985.2 709.3 L982.6 709.4 L980.0 709.5 L977.0 709.6 L973.9 709.7 L970.8 709.8 L967.6 709.9 L964.4 710.0 L960.9 710.1 L957.4 710.1 L953.6 710.2 L947.7 710.2 L941.1 710.1 L934.1 710.0 L926.9 709.9 L919.6 709.9 L912.6 710.0 L906.0 710.4 L900.0 711.0 L896.0 711.7 L892.2 712.6 L888.5 713.6 L885.0 714.7 L881.6 715.8 L878.3 716.9 L875.0 718.0 L871.7 719.0 L868.8 719.8 L866.1 720.6 L863.3 721.4 L860.7 722.1 L858.0 722.9 L855.3 723.6 L852.7 724.3 L850.0 725.0 L847.5 725.7 L845.1 726.4 L842.9 727.1 L840.5 727.7 L838.1 728.4 L835.4 729.0 L832.3 729.5 L828.8 730.0 L818.1 730.8 L804.8 731.1 L789.4 731.1 L772.5 730.9 L754.5 730.5 L736.1 730.1 L717.8 729.8 L700.0 729.7 L679.3 729.7 L657.6 729.8 L635.3 729.9 L612.7 730.0 L590.1 730.2 L567.9 730.3 L546.5 730.5 L526.0 730.7 L508.0 730.9 L488.3 731.1 L467.9 731.4 L448.4 731.7 L430.9 732.0 L416.8 732.2 L407.4 732.3 L404.0 732.4" stroke="#0f0" stroke-width="8.3"/>
<path d="M404.0 732.4 L409.2 732.4 L423.3 732.6 L443.9 732.8 L468.6 733.0 L495.1 733.3 L521.1 733.5 L544.2 733.8 L562.0 734.0 L569.8 734.1 L576.7 734.2 L583.0 734.2 L588.9 734.3 L594.8 734.4 L600.7 734.5 L607.1 734.6 L614.0 734.8 L623.7 735.1 L634.0 735.6 L644.7 736.1 L655.7 736.7 L666.8 737.2 L678.0 737.8 L689.1 738.2 L700.0 738.5 L710.9 738.6 L722.1 738.6 L733.5 738.4 L744.8 738.2 L755.8 738.0 L766.4 738.0 L776.5 738.2 L785.8 738.7 L791.9 739.2 L797.6 739.9 L803.0 740.6 L808.3 741.4 L813.4 742.2 L818.4 743.2 L823.5 744.1 L828.8 745.1 L834.2 746.1 L839.8 747.3 L845.3 748.4 L850.9 749.6 L856.3 750.9 L861.6 752.2 L866.8 753.5 L871.7 754.8 L875.6 755.9 L879.3 757.1 L882.9 758.2 L886.5 759.4 L889.9 760.6 L893.3 761.8 L896.7 762.9 L900.0 764.0 L902.8 764.9 L905.6 765.8 L908.3 766.7 L910.9 767.5 L913.6 768.4 L916.2 769.2 L918.8 770.1 L921.5 770.9 L924.2 771.7 L926.8 772.6 L929.5 773.4 L932.2 774.2 L934.9 775.0 L937.5 775.8 L940.2 776.6 L942.9 777.3 L945.6 778.0 L948.3 778.7 L950.9 779.4 L953.6 780.1 L956.3 780.8 L959.0 781.4 L961.7 782.1 L964.4 782.7 L967.1 783.3 L969.7 783.8 L972.4 784.3 L975.1 784.9 L977.8 785.4 L980.5 785.9 L983.1 786.4 L985.8 787.0 L988.5 787.6 L991.2 788.3 L993.9 788.9 L996.6 789.6 L999.2 790.3 L1001.9 790.9 L1004.6 791.6 L1007.3 792.3 L1010.0 793.0 L1012.9 793.6 L1015.7 794.3 L1018.5 795.0 L1021.3 795.6 L1024.0 796.3 L1026.5 797.0 L1028.8 797.7 L1030.3 798.2 L1031.8 798.7 L1033.1 799.2 L1034.4 799.7 L1035.7 800.2 L1037.0 800.7 L1038.2 801.3 L1039.5 802.0 L1040.9 802.8 L1042.2 803.6 L1043.6 804.6 L1044.9 805.5 L1046.2 806.5 L1047.6 807.5 L1048.9 808.5 L1050.2 809.5 L1051.5 810.5 L1052.9 811.6 L1054.2 812.7 L1055.5 813.9 L1056.9 815.0 L1058.2 816.1 L1059.5 817.1 L1060.9 818.1 L1062.2 819.0 L1063.5 819.8 L1064.8 820.6 L1066.1 821.3 L1067.4 822.1 L1068.8 822.8 L1070.2 823.6 L1071.7 824.4 L1073.7 825.4 L1075.8 826.4 L1078.0 827.4 L1080.2 828.4 L1082.5 829.4 L1084.7 830.5 L1086.8 831.7 L1088.8 833.0 L1090.6 834.4 L1092.3 835.8 L1094.0 837.3 L1095.6 838.9 L1097.1 840.5 L1098.7 842.2 L1100.2 844.0 L1101.7 845.8 L1103.4 848.0 L1104.9 850.3 L1106.5 852.7 L1108.0 855.1 L1109.5 857.6 L1111.1 860.2 L1112.8 862.7 L1114.6 865.2 L1117.0 868.1 L1119.5 871.0 L1122.2 874.0 L1125.0 876.9 L1127.8 879.9 L1130.6 882.9 L1133.4 885.8 L1136.0 888.8 L1138.5 891.7 L1140.9 894.5 L1143.3 897.4 L1145.7 900.2 L1148.1 903.1 L1150.5 906.0 L1152.9 909.0 L1155.4 912.0 L1158.2 915.4 L1161.2 918.9 L1164.1 922.5 L1167.1 926.2 L1170.1 929.8 L1173.1 933.4 L1176.1 936.9 L1179.0 940.3 L1181.7 943.4 L1184.4 946.5 L1187.0 949.5 L1189.7 952.5 L1192.3 955.4 L1195.0 958.3 L1197.7 961.1 L1200.4 963.9 L1203.0 966.5 L1205.7 969.0 L1208.4 971.4 L1211.1 973.9 L1213.8 976.2 L1216.5 978.6 L1219.2 980.9 L1221.9 983.2 L1224.6 985.4 L1227.3 987.6 L1230.0 989.8 L1232.7 991.9 L1235.4 994.0 L1238.1 996.1 L1240.7 998.2 L1243.3 1000.3 L1245.7 1002.3 L1248.2 1004.3 L1250.6 1006.3 L1253.0 1008.4 L1255.4 1010.3 L1257.7 1012.3 L1259.9 1014.2 L1262.0 1016.0 L1263.6 1017.4 L1265.0 1018.7 L1266.3 1020.0 L1267.6 1021.3 L1269.0 1022.5 L1270.4 1023.8 L1271.9 1025.1 L1273.6 1026.5 L1276.3 1028.5 L1279.2 1030.5 L1282.3 1032.6 L1285.6 1034.7 L1288.9 1036.9 L1292.3 1039.1 L1295.7 1041.3 L1299.0 1043.5 L1302.4 1045.8 L1305.8 1048.2 L1309.3 1050.5 L1312.7 1052.9 L1316.2 1055.3 L1319.8 1057.8 L1323.5 1060.3 L1327.3 1063.0 L1332.3 1066.4 L1337.6 1070.1 L1343.2 1073.8 L1348.8 1077.7 L1354.5 1081.6 L1360.0 1085.5 L1365.3 1089.3 L1370.2 1093.0 L1374.1 1096.1 L1378.0 1099.3 L1381.8 1102.4 L1385.4 1105.6 L1388.9 1108.6 L1392.3 1111.6 L1395.5 1114.4 L1398.5 1117.0 L1400.5 1118.7 L1402.3 1120.3 L1403.9 1121.7 L1405.6 1123.1 L1407.2 1124.6 L1408.9 1126.1 L1410.8 1127.7 L1413.0 1129.5 L1417.3 1133.0 L1422.1 1136.9 L1427.4 1141.2 L1433.1 1145.7 L1438.9 1150.3 L1444.7 1154.9 L1450.5 1159.5 L1456.0 1163.9 L1461.6 1168.4 L1467.5 1173.2 L1473.6 1178.1 L1479.5 1182.9 L1485.3 1187.5 L1490.5 1191.7 L1495.2 1195.3 L1499.0 1198.2 L1500.4 1199.2 L1501.6 1200.0 L1502.8 1200.8 L1503.8 1201.4 L1504.8 1202.0 L1505.7 1202.6 L1506.6 1203.3 L1507.5 1204.0 L1508.2 1204.7 L1509.0 1205.5 L1509.7 1206.3 L1510.4 1207.1 L1511.1 1207.8 L1511.6 1208.4 L1511.9 1208.9 L1512.0 1209.0" stroke="#0f0" stroke-width="8.3"/>
<polygon points="1207.0,170.0 1178.8,120.5 1235.2,120.5" fill="#0f0"/>
<polygon points="1155.6,273.0 1127.3,223.5 1183.8,223.5" fill="#0f0"/>
<polygon points="1075.0,629.5 1046.8,580.0 1103.2,580.0" fill="#0f0"/>
<polygon points="1155.4,947.0 1127.2,897.5 1183.7,897.5" fill="#0f0"/>
<polygon points="1262.0,1048.0 1233.8,998.5 1290.2,998.5" fill="#0f0"/>
<polygon points="1398.5,1150.7 1370.2,1101.2 1426.8,1101.2" fill="#0f0"/>
</g>
<g stroke="#000" stroke-width="5.8" fill="none" stroke-linecap="butt">
<rect x="258.5" y="36.9" width="1572.3" height="1169.0"/>
</g><g stroke="#000" stroke-width="5.3">
<line x1="258.5" y1="1205.9" x2="258.5" y2="1220.9"/>
<line x1="389.4" y1="1205.9" x2="389.4" y2="1231.4"/>
<line x1="520.6" y1="1205.9" x2="520.6" y2="1220.9"/>
<line x1="651.7" y1="1205.9" x2="651.7" y2="1231.4"/>
<line x1="782.9" y1="1205.9" x2="782.9" y2="1220.9"/>
<line x1="914.1" y1="1205.9" x2="914.1" y2="1231.4"/>
<line x1="1045.2" y1="1205.9" x2="1045.2" y2="1220.9"/>
<line x1="1176.4" y1="1205.9" x2="1176.4" y2="1231.4"/>
<line x1="1307.6" y1="1205.9" x2="1307.6" y2="1220.9"/>
<line x1="1438.8" y1="1205.9" x2="1438.8" y2="1231.4"/>
<line x1="1569.9" y1="1205.9" x2="1569.9" y2="1220.9"/>
<line x1="1701.1" y1="1205.9" x2="1701.1" y2="1231.4"/>
<line x1="1830.8" y1="1205.9" x2="1830.8" y2="1220.9"/>
<line x1="233.5" y1="138.6" x2="258.5" y2="138.6"/>
<line x1="245.0" y1="265.6" x2="258.5" y2="265.6"/>
<line x1="233.5" y1="392.7" x2="258.5" y2="392.7"/>
<line x1="245.0" y1="519.7" x2="258.5" y2="519.7"/>
<line x1="233.5" y1="646.8" x2="258.5" y2="646.8"/>
<line x1="245.0" y1="773.9" x2="258.5" y2="773.9"/>
<line x1="233.5" y1="900.9" x2="258.5" y2="900.9"/>
<line x1="245.0" y1="1028.0" x2="258.5" y2="1028.0"/>
<line x1="233.5" y1="1155.1" x2="258.5" y2="1155.1"/>
</g>
<line x1="1506" y1="1203.3" x2="1548" y2="1203.3" stroke="#0c0" stroke-width="1.5"/>
<g font-size="57.5px">
<text x="388.4" y="1289.5" text-anchor="middle">-12</text>
<text x="650.7" y="1289.5" text-anchor="middle">-10</text>
<text x="913.1" y="1289.5" text-anchor="middle">-8</text>
<text x="1175.4" y="1289.5" text-anchor="middle">-6</text>
<text x="1437.8" y="1289.5" text-anchor="middle">-4</text>
<text x="1700.1" y="1289.5" text-anchor="middle">-2</text>
<text x="219" y="154.1" text-anchor="end">0.5</text>
<text x="219" y="408.2" text-anchor="end">0.0</text>
<text x="219" y="662.3" text-anchor="end">-0.5</text>
<text x="219" y="916.4" text-anchor="end">-1.0</text>
<text x="219" y="1170.6" text-anchor="end">-1.5</text>
</g>
<g stroke-width="8.8" stroke-linecap="butt">
<line x1="291.2" y1="109.1" x2="425" y2="109.1" stroke="#000"/>
<line x1="291.2" y1="193.5" x2="425" y2="193.5" stroke="#f00"/>
<line x1="291.2" y1="275.4" x2="425" y2="275.4" stroke="#00f"/>
<line x1="291.2" y1="357.2" x2="425" y2="357.2" stroke="#0f0"/>
</g>
<rect x="337.8" y="88.9" width="41.0" height="41.0" fill="#000"/>
<ellipse cx="359.3" cy="192" rx="22.4" ry="24.6" fill="#f00"/>
<polygon points="358.3,243.2 330.1,292.7 386.6,292.7" fill="#00f"/>
<polygon points="358.7,390.6 330.4,341.1 386.9,341.1" fill="#0f0"/>
<g font-size="60.5px">
<text x="437.0" y="128.8">TC4</text>
<text x="439.5" y="211.3">Ta30</text>
<text x="439.5" y="294.5">Ta60</text>
<text x="439.5" y="376.3">Ta120</text>
</g>
<text font-size="66px" x="827" y="1382.5">Log(I / A cm</text>
<text font-size="66px" transform="translate(1186.5,1351.8) scale(1,1.04)">-2</text>
<text font-size="66px" x="1242.5" y="1382.5">)</text>
<text font-size="67.5px" transform="translate(86.5,956.5) rotate(-90)">Potential V / vs.SCE</text>
</svg></body></html>
